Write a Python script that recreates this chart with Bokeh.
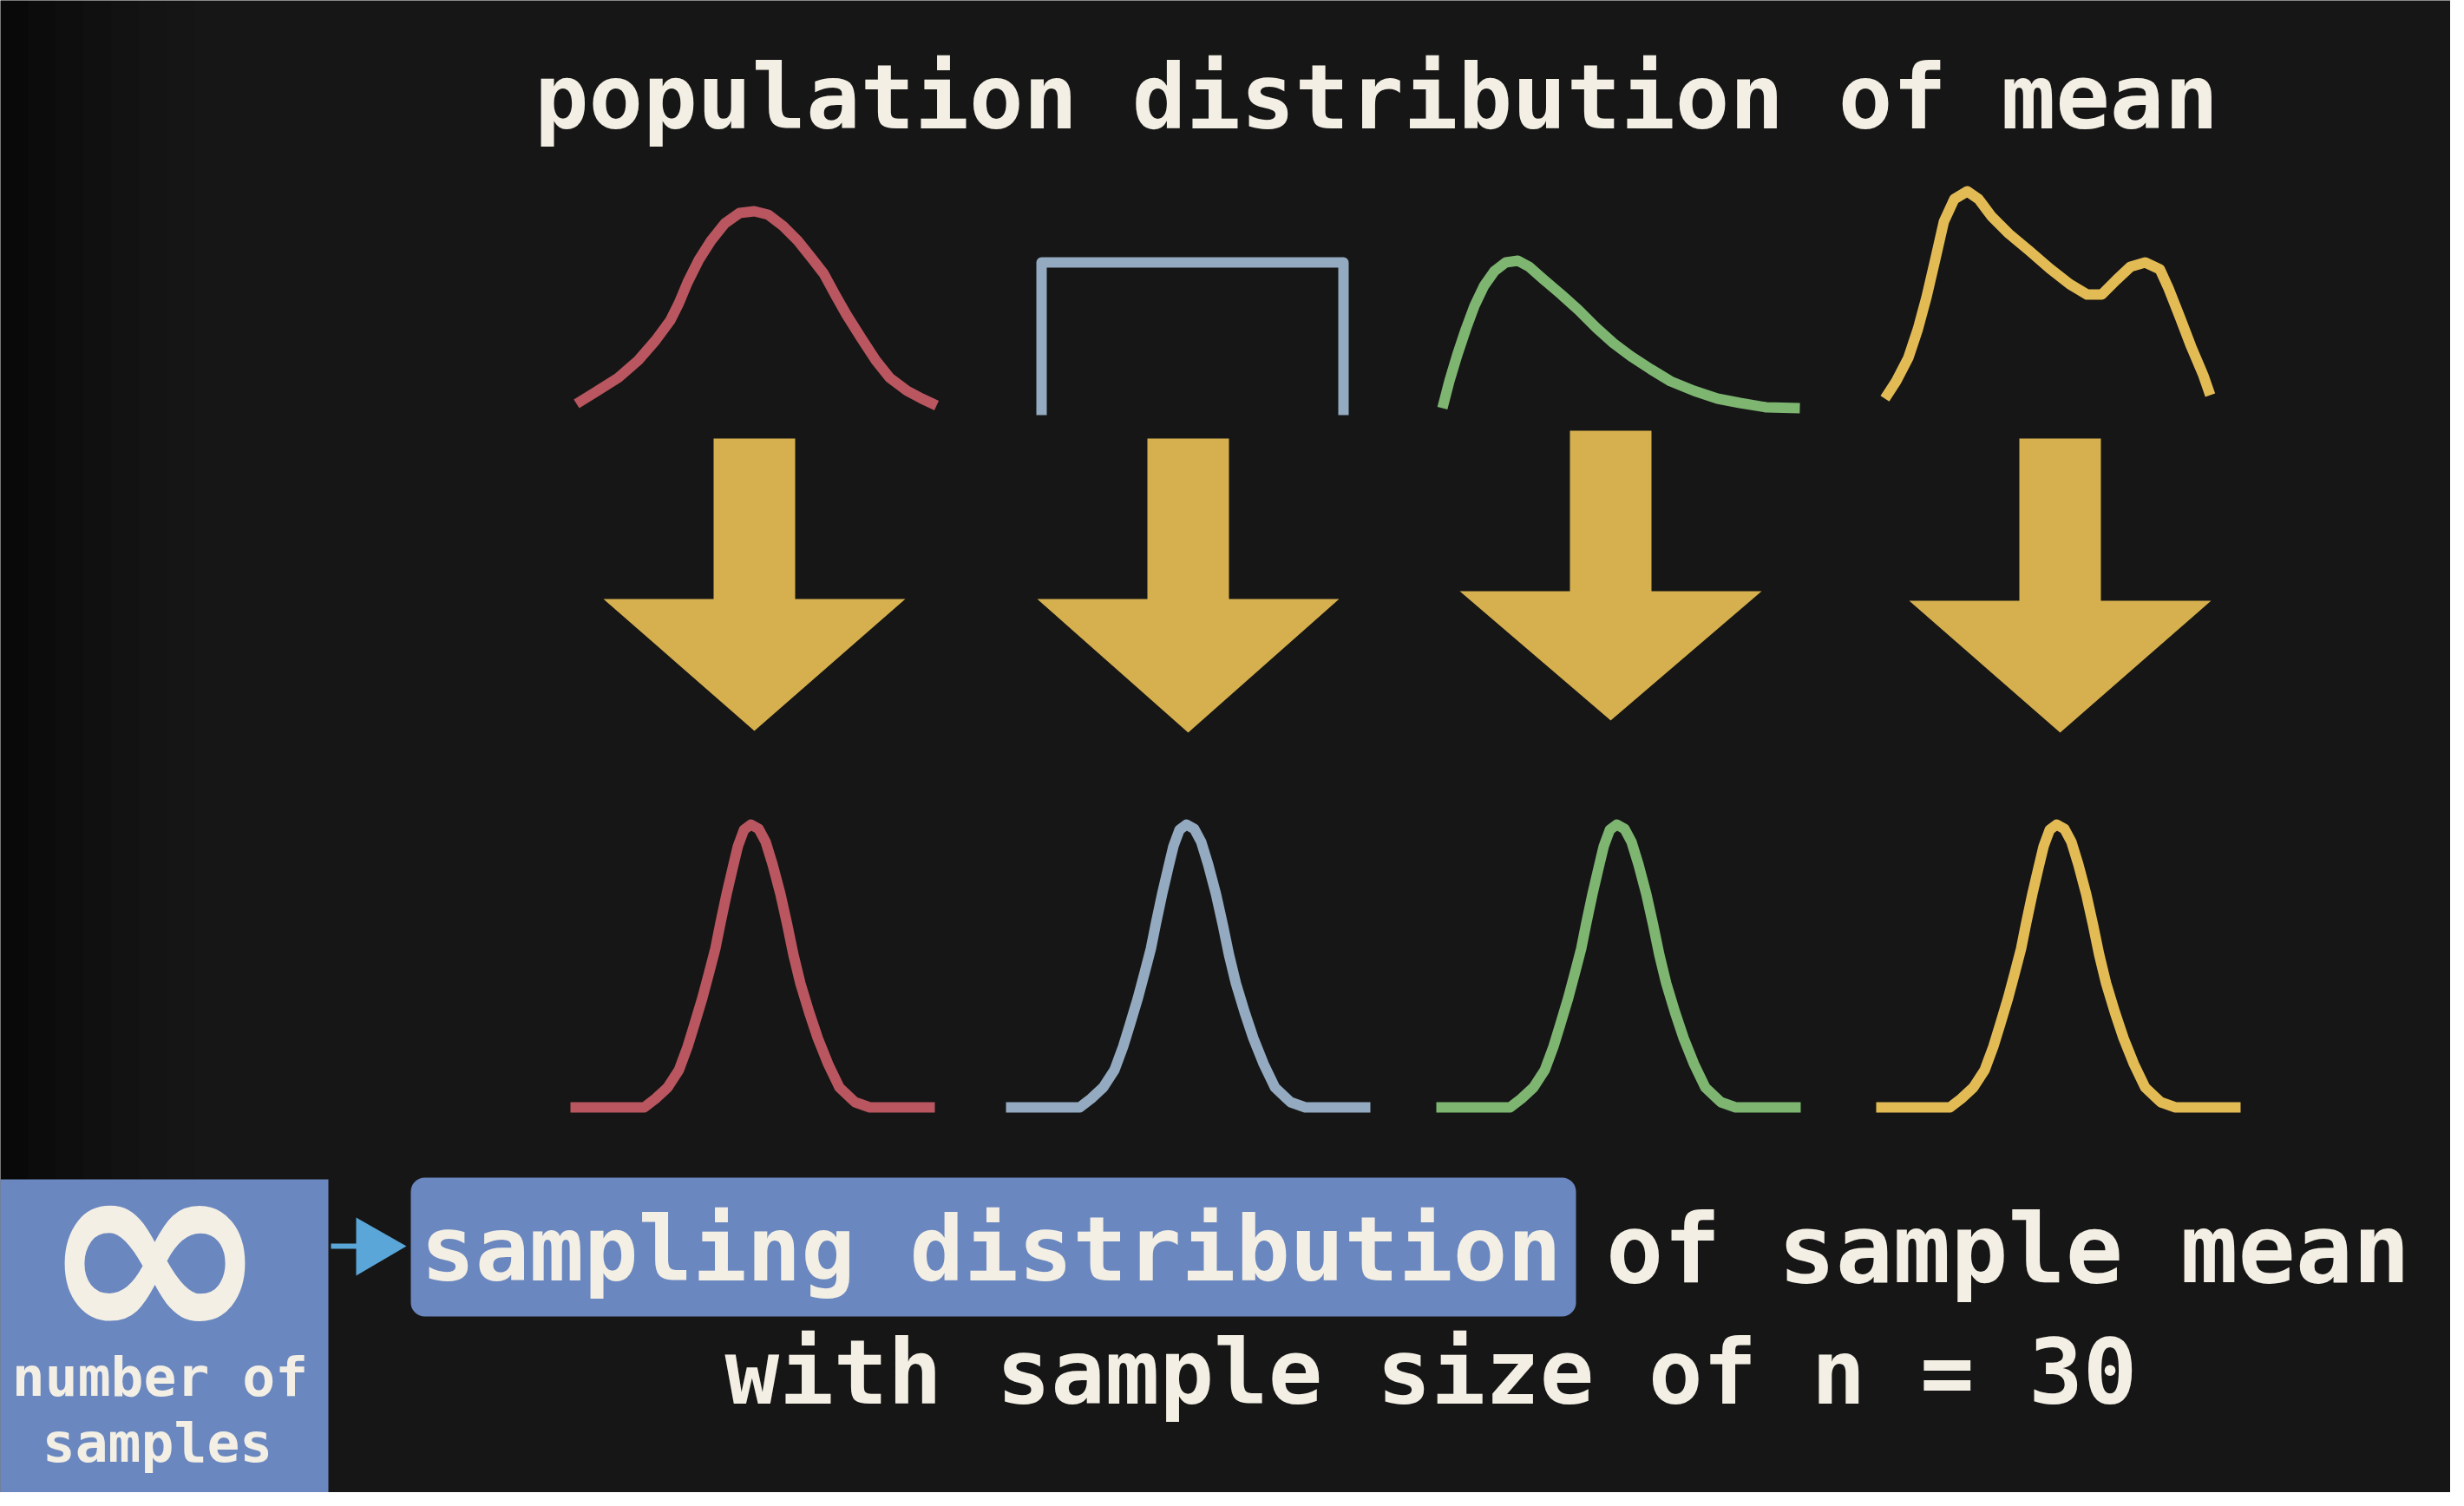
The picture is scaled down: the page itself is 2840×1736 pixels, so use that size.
from bokeh.core.properties import value
from bokeh.embed import file_html
from bokeh.models import Range1d
from bokeh.plotting import figure
from bokeh.resources import INLINE

# everything is in pixel coordinates of the reference picture (y grows downward)
title = "population distribution of mean"
highlight_label = "sampling distribution"
rest_label = "of sample mean"
line2_label = "with sample size of n = 30"
box_symbol = "∞"
box_lines = ["number of", "samples"]

colors = ["#B9565F", "#93AAC0", "#7DB571", "#E3BB55"]
arrow_color = "#D6B04E"

# population curves (top row)
red_x = [672, 693, 720, 743, 763, 780, 790, 800, 813, 827, 843, 860, 877, 893, 910, 927,
         943, 957, 970, 983, 1000, 1017, 1033, 1053, 1070, 1087]
red_y = [473, 460, 443, 423, 400, 377, 357, 333, 307, 285, 265, 253, 251, 255, 268, 285,
         305, 323, 347, 370, 397, 423, 443, 458, 467, 475]
blue_x = [1208, 1208, 1556, 1556]
blue_y = [486, 310, 310, 486]
green_x = [1670, 1678, 1687, 1697, 1707, 1718, 1730, 1743, 1757, 1770, 1787, 1807, 1827,
           1847, 1867, 1887, 1910, 1933, 1960, 1987, 2013, 2043, 2082]
green_y = [478, 447, 417, 387, 360, 337, 320, 310, 308, 315, 330, 347, 365,
           385, 403, 418, 433, 447, 458, 467, 472, 477, 478]
yellow_x = [2180, 2193, 2207, 2218, 2228, 2238, 2248, 2260, 2275, 2288, 2303, 2323, 2347,
            2370, 2393, 2413, 2430, 2447, 2463, 2480, 2497, 2507, 2520, 2533, 2547, 2555]
yellow_y = [467, 447, 420, 387, 350, 307, 263, 237, 228, 237, 257, 277, 297,
            317, 335, 347, 347, 330, 315, 310, 318, 340, 373, 407, 440, 463]

# sampling distribution shape (bottom row), offsets from peak / baseline
samp_dx = [-208, -123, -110, -96, -83, -73, -65, -56, -48, -41, -35, -28, -21, -15, -8, 0,
           9, 17, 25, 34, 42, 49, 57, 67, 77, 89, 102, 120, 137, 212]
samp_dy = [0, 0, 10, 23, 43, 70, 96, 126, 156, 183, 213, 246, 276, 301, 320, 326,
           321, 306, 280, 246, 210, 176, 143, 110, 80, 50, 23, 6, 0, 0]
samp_peak_x = [873, 1375, 1871, 2378]
samp_base_y = [1284, 1284, 1284, 1284]

# arrows
arrow_cx = [877, 1377, 1864, 2382]
arrow_top = [513, 513, 504, 513]
arrow_neck = [698, 698, 689, 700]
arrow_tip = [850, 852, 838, 852]
shaft_half = 47
head_half = 174

p = figure(width=2824, height=1720, output_backend="svg", toolbar_location=None,
           x_range=Range1d(8, 2832), y_range=Range1d(1728, 8), min_border=0)
p.axis.visible = False
p.grid.visible = False
p.outline_line_color = None
p.background_fill_color = "#161616"
p.border_fill_color = "#161616"

# soft darkening towards the left edge
for i, a in enumerate([0.55, 0.42, 0.32, 0.23, 0.15, 0.09, 0.04]):
    p.quad(left=[8 + 32 * i], right=[40 + 32 * i], top=[8], bottom=[1728],
           fill_color="black", fill_alpha=a, line_color=None)

font = value("DejaVu Sans Mono")
cream = "#F3EFE4"
big = value("104px")

p.text(x=[1594], y=[119], text=[title], text_font=font, text_font_size=big,
       text_font_style="bold", text_color=cream, text_align="center",
       text_baseline="alphabetic")

for xs, ys, c in zip([red_x, blue_x, green_x, yellow_x], [red_y, blue_y, green_y, yellow_y], colors):
    p.line(xs, ys, line_color=c, line_width=12, line_join="round")

ax, ay = [], []
for cx, t, n, tip in zip(arrow_cx, arrow_top, arrow_neck, arrow_tip):
    ax.append([cx - shaft_half, cx + shaft_half, cx + shaft_half, cx + head_half, cx,
               cx - head_half, cx - shaft_half])
    ay.append([t, t, n, n, tip, n, n])
p.patches(ax, ay, fill_color=arrow_color, line_color=None)

for px, by, c in zip(samp_peak_x, samp_base_y, colors):
    p.line([px + d for d in samp_dx], [by - d for d in samp_dy], line_color=c,
           line_width=12, line_join="round")

# left box: infinite number of samples
p.quad(left=[0], right=[386], top=[1367], bottom=[1736], fill_color="#6B87BF", line_color=None)
p.text(x=[186], y=[1448], text=[box_symbol], text_font=value("DejaVu Sans"),
       text_font_size=value("320px"), text_font_style="bold", text_color=cream,
       text_align="center", text_baseline="middle")
p.text(x=[192, 189], y=[1595, 1671], text=box_lines, text_font=font,
       text_font_size=value("63px"), text_font_style="bold", text_color=cream,
       text_align="center", text_baseline="alphabetic")

# small connector arrow
p.line([389, 425], [1444, 1444], line_color="#5AA6D8", line_width=6)
p.patches([[418, 476, 418]], [[1411, 1444, 1478]], fill_color="#5AA6D8", line_color=None)

# highlighted phrase
p.quad(left=[481], right=[1824], top=[1365], bottom=[1525], fill_color="#6B87BF",
       line_color=None, border_radius=16)
p.text(x=[1150], y=[1447], text=[highlight_label], text_font=font, text_font_size=big,
       text_font_style="bold", text_color=cream, text_align="center",
       text_baseline="alphabetic")
p.text(x=[2322], y=[1447], text=[rest_label], text_font=font, text_font_size=value("110px"),
       text_font_style="bold", text_color=cream, text_align="center",
       text_baseline="alphabetic")
p.text(x=[1657], y=[1589], text=[line2_label], text_font=font, text_font_size=big,
       text_font_style="bold", text_color=cream, text_align="center",
       text_baseline="alphabetic")

open("out.html", "w").write(file_html(p, INLINE))
